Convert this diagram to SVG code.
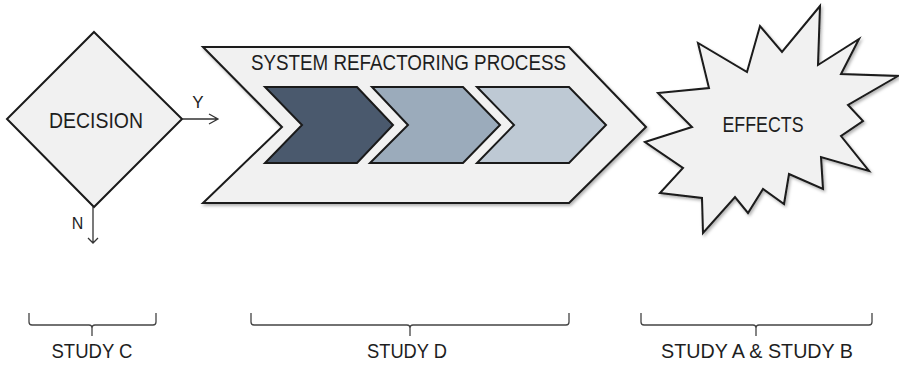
<svg xmlns="http://www.w3.org/2000/svg" width="899" height="365" viewBox="0 0 899 365">
<style>
.shape{stroke:#1a1a1a;stroke-width:2;stroke-linejoin:miter}
.light{fill:#f1f1f1}
.lbl{font-family:"Liberation Sans",Arial,sans-serif;fill:#1e1e1e}
.conn{stroke:#333;stroke-width:1.3;fill:none}
.brace{stroke:#444;stroke-width:1.3;fill:none}
</style>
<defs>
<filter id="sh" x="-10%" y="-10%" width="130%" height="130%">
<feDropShadow dx="1.5" dy="2" stdDeviation="1.5" flood-color="#000" flood-opacity="0.3"/>
</filter>
</defs>
<g id="decision">
<polygon class="shape light" points="94,32 182,119 94,207 7,119" stroke-width="1.6"/>
<text class="lbl" x="96" y="127.5" font-size="22" text-anchor="middle" textLength="94" lengthAdjust="spacingAndGlyphs">DECISION</text>
</g>
<g id="process">
<polygon class="shape light" filter="url(#sh)" points="203,47 569,47 646,127 569,203 203,203 282,127"/>
<text class="lbl" x="251" y="69.5" font-size="22" textLength="315" lengthAdjust="spacingAndGlyphs">SYSTEM REFACTORING PROCESS</text>
<g id="step1"><polygon class="shape" fill="#4a596d" points="265,87 357,87 393,125 357,163 265,163 302,125"/></g>
<g id="step2"><polygon class="shape" fill="#9babbb" points="372,87 463,87 500,125 463,163 370,163 408,125"/></g>
<g id="step3"><polygon class="shape" fill="#bec9d4" points="477,87 569,87 606,125 569,163 477,163 514,125"/></g>
</g>
<g id="effects">
<polygon class="shape light" filter="url(#sh)" stroke-width="1.6" points="645,142 692,127 658,93 709,88 698,43 747,72 760,26 782,52 820,6 818,65 859,39 841,74 898,76 848,105 863,121 841,136 869,171 821,157 823,189 789,174 784,204 763,189 748,213 735,197 703,233 702,198 660,193 683,168"/>
<text class="lbl" x="763" y="131.5" font-size="22" text-anchor="middle" textLength="81" lengthAdjust="spacingAndGlyphs">EFFECTS</text>
</g>
<g id="connectors">
<path class="conn" d="M182,119 H218 M209,114 L218,119 L209,124"/>
<text class="lbl" x="198" y="108" font-size="17" text-anchor="middle">Y</text>
<path class="conn" d="M93,207 V243 M88,238 L93,243 L98,238"/>
<text class="lbl" x="77.5" y="228.5" font-size="16" text-anchor="middle">N</text>
</g>
<g id="brace-c">
<path class="brace" d="M29,313 V322 Q29,325 32,325 H89 Q92,325 92,328 V336 M92,328 Q92,325 95,325 H153 Q156,325 156,322 V313"/>
<text class="lbl" x="92" y="358" font-size="21" text-anchor="middle" textLength="81" lengthAdjust="spacingAndGlyphs">STUDY C</text>
</g>
<g id="brace-d">
<path class="brace" d="M251,313 V322 Q251,325 254,325 H407 Q410,325 410,328 V336 M410,328 Q410,325 413,325 H566 Q569,325 569,322 V313"/>
<text class="lbl" x="407" y="358" font-size="21" text-anchor="middle" textLength="80" lengthAdjust="spacingAndGlyphs">STUDY D</text>
</g>
<g id="brace-ab">
<path class="brace" d="M641,313 V322 Q641,325 644,325 H753 Q756,325 756,328 V336 M756,328 Q756,325 759,325 H869 Q872,325 872,322 V313"/>
<text class="lbl" x="757" y="358" font-size="21" text-anchor="middle" textLength="192" lengthAdjust="spacingAndGlyphs">STUDY A &amp; STUDY B</text>
</g>
</svg>
